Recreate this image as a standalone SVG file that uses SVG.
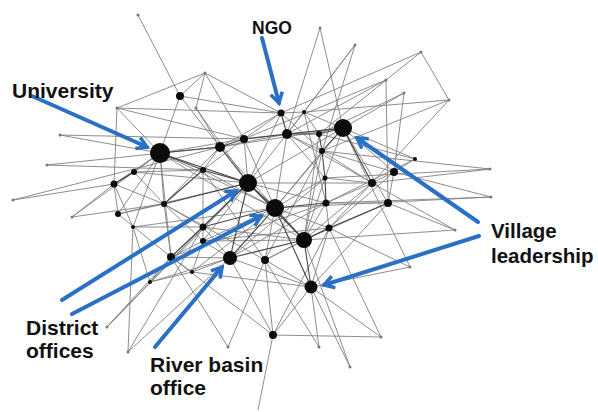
<svg xmlns="http://www.w3.org/2000/svg" width="598" height="412" viewBox="0 0 598 412">
<style>
.e{stroke:#808080;stroke-width:0.9;fill:none}
.d{stroke:#444;stroke-width:1.1;fill:none}
.nd{fill:#0b0b0b}
.tp{fill:#777}
.lbl{font-family:"Liberation Sans",Arial,sans-serif;font-weight:bold;font-size:21px;fill:#111}
.ar{stroke:#2a70c6;stroke-width:4;fill:none;stroke-linecap:round;marker-end:url(#ah)}
</style>
<defs>
<marker id="ah" viewBox="0 0 16 16" markerWidth="16" markerHeight="16" refX="13" refY="8" orient="auto" markerUnits="userSpaceOnUse">
<path d="M3,2 L13,8 L3,14" stroke="#2a70c6" stroke-width="3.5" fill="none"/>
</marker>
</defs>
<rect width="598" height="412" fill="#fff"/>
<g id="connectors">
<g class="e">
<line x1="138" y1="15" x2="180" y2="96"/>
<line x1="205" y1="73" x2="117" y2="108"/>
<line x1="205" y1="73" x2="196" y2="108"/>
<line x1="205" y1="73" x2="281" y2="113"/>
<line x1="205" y1="73" x2="244" y2="139"/>
<line x1="205" y1="73" x2="180" y2="96"/>
<line x1="117" y1="108" x2="114" y2="184"/>
<line x1="117" y1="108" x2="281" y2="113"/>
<line x1="117" y1="108" x2="160" y2="153"/>
<line x1="117" y1="108" x2="244" y2="139"/>
<line x1="196" y1="108" x2="248" y2="183"/>
<line x1="196" y1="108" x2="220" y2="147"/>
<line x1="60" y1="135" x2="160" y2="153"/>
<line x1="60" y1="135" x2="244" y2="139"/>
<line x1="47" y1="165" x2="220" y2="147"/>
<line x1="47" y1="165" x2="203" y2="170"/>
<line x1="13" y1="200" x2="114" y2="184"/>
<line x1="13" y1="200" x2="220" y2="147"/>
<line x1="72" y1="217" x2="114" y2="184"/>
<line x1="72" y1="217" x2="164" y2="204"/>
<line x1="72" y1="217" x2="160" y2="153"/>
<line x1="320" y1="28" x2="343" y2="128"/>
<line x1="320" y1="28" x2="287" y2="134"/>
<line x1="355" y1="45" x2="304" y2="112"/>
<line x1="355" y1="45" x2="287" y2="134"/>
<line x1="355" y1="45" x2="322" y2="151"/>
<line x1="421" y1="52" x2="281" y2="113"/>
<line x1="421" y1="52" x2="449" y2="100"/>
<line x1="421" y1="52" x2="319" y2="134"/>
<line x1="386" y1="80" x2="388" y2="203"/>
<line x1="386" y1="80" x2="287" y2="134"/>
<line x1="386" y1="80" x2="244" y2="139"/>
<line x1="404" y1="93" x2="394" y2="172"/>
<line x1="404" y1="93" x2="319" y2="134"/>
<line x1="404" y1="93" x2="343" y2="128"/>
<line x1="449" y1="100" x2="304" y2="112"/>
<line x1="449" y1="100" x2="322" y2="151"/>
<line x1="449" y1="100" x2="372" y2="183"/>
<line x1="490" y1="169" x2="372" y2="183"/>
<line x1="490" y1="169" x2="322" y2="151"/>
<line x1="490" y1="169" x2="325" y2="178"/>
<line x1="491" y1="197" x2="326" y2="203"/>
<line x1="491" y1="197" x2="275" y2="208"/>
<line x1="491" y1="197" x2="394" y2="172"/>
<line x1="455" y1="230" x2="388" y2="203"/>
<line x1="455" y1="230" x2="372" y2="183"/>
<line x1="455" y1="230" x2="304" y2="240"/>
<line x1="410" y1="267" x2="343" y2="128"/>
<line x1="410" y1="267" x2="311" y2="287"/>
<line x1="410" y1="267" x2="329" y2="228"/>
<line x1="381" y1="337" x2="311" y2="287"/>
<line x1="381" y1="337" x2="273" y2="335"/>
<line x1="381" y1="337" x2="329" y2="228"/>
<line x1="319" y1="347" x2="311" y2="287"/>
<line x1="319" y1="347" x2="265" y2="260"/>
<line x1="350" y1="367" x2="311" y2="287"/>
<line x1="350" y1="367" x2="304" y2="240"/>
<line x1="107" y1="327" x2="203" y2="227"/>
<line x1="107" y1="327" x2="171" y2="257"/>
<line x1="107" y1="327" x2="248" y2="183"/>
<line x1="128" y1="352" x2="230" y2="258"/>
<line x1="128" y1="352" x2="133" y2="227"/>
<line x1="128" y1="352" x2="203" y2="227"/>
<line x1="228" y1="347" x2="171" y2="257"/>
<line x1="228" y1="347" x2="265" y2="260"/>
<line x1="258" y1="410" x2="273" y2="335"/>
<line x1="273" y1="335" x2="311" y2="287"/>
<line x1="273" y1="335" x2="230" y2="258"/>
<line x1="273" y1="335" x2="265" y2="260"/>
<line x1="273" y1="335" x2="329" y2="228"/>
<line x1="273" y1="335" x2="171" y2="257"/>
<line x1="160" y1="153" x2="180" y2="96"/>
<line x1="160" y1="153" x2="134" y2="172"/>
<line x1="160" y1="153" x2="114" y2="184"/>
<line x1="160" y1="153" x2="164" y2="204"/>
<line x1="160" y1="153" x2="244" y2="139"/>
<line x1="160" y1="153" x2="275" y2="208"/>
<line x1="160" y1="153" x2="304" y2="240"/>
<line x1="160" y1="153" x2="171" y2="257"/>
<line x1="160" y1="153" x2="118" y2="214"/>
<line x1="160" y1="153" x2="133" y2="227"/>
<line x1="248" y1="183" x2="287" y2="134"/>
<line x1="248" y1="183" x2="326" y2="203"/>
<line x1="248" y1="183" x2="343" y2="128"/>
<line x1="248" y1="183" x2="372" y2="183"/>
<line x1="248" y1="183" x2="171" y2="257"/>
<line x1="248" y1="183" x2="281" y2="113"/>
<line x1="248" y1="183" x2="203" y2="241"/>
<line x1="275" y1="208" x2="329" y2="228"/>
<line x1="275" y1="208" x2="265" y2="260"/>
<line x1="275" y1="208" x2="322" y2="151"/>
<line x1="275" y1="208" x2="343" y2="128"/>
<line x1="275" y1="208" x2="325" y2="178"/>
<line x1="275" y1="208" x2="203" y2="241"/>
<line x1="275" y1="208" x2="287" y2="134"/>
<line x1="275" y1="208" x2="192" y2="272"/>
<line x1="343" y1="128" x2="394" y2="172"/>
<line x1="343" y1="128" x2="415" y2="159"/>
<line x1="343" y1="128" x2="244" y2="139"/>
<line x1="343" y1="128" x2="325" y2="178"/>
<line x1="343" y1="128" x2="304" y2="112"/>
<line x1="343" y1="128" x2="220" y2="147"/>
<line x1="343" y1="128" x2="388" y2="203"/>
<line x1="304" y1="240" x2="265" y2="260"/>
<line x1="304" y1="240" x2="388" y2="203"/>
<line x1="304" y1="240" x2="326" y2="203"/>
<line x1="304" y1="240" x2="372" y2="183"/>
<line x1="304" y1="240" x2="203" y2="241"/>
<line x1="304" y1="240" x2="322" y2="151"/>
<line x1="304" y1="240" x2="325" y2="178"/>
<line x1="230" y1="258" x2="203" y2="241"/>
<line x1="230" y1="258" x2="171" y2="257"/>
<line x1="230" y1="258" x2="192" y2="272"/>
<line x1="230" y1="258" x2="311" y2="287"/>
<line x1="230" y1="258" x2="203" y2="227"/>
<line x1="230" y1="258" x2="150" y2="282"/>
<line x1="230" y1="258" x2="326" y2="203"/>
<line x1="311" y1="287" x2="265" y2="260"/>
<line x1="311" y1="287" x2="329" y2="228"/>
<line x1="311" y1="287" x2="388" y2="203"/>
<line x1="311" y1="287" x2="192" y2="272"/>
<line x1="220" y1="147" x2="203" y2="170"/>
<line x1="220" y1="147" x2="281" y2="113"/>
<line x1="220" y1="147" x2="164" y2="204"/>
<line x1="220" y1="147" x2="287" y2="134"/>
<line x1="244" y1="139" x2="281" y2="113"/>
<line x1="244" y1="139" x2="203" y2="170"/>
<line x1="287" y1="134" x2="304" y2="112"/>
<line x1="287" y1="134" x2="322" y2="151"/>
<line x1="287" y1="134" x2="325" y2="178"/>
<line x1="281" y1="113" x2="304" y2="112"/>
<line x1="304" y1="112" x2="319" y2="134"/>
<line x1="319" y1="134" x2="415" y2="159"/>
<line x1="322" y1="151" x2="372" y2="183"/>
<line x1="322" y1="151" x2="394" y2="172"/>
<line x1="394" y1="172" x2="372" y2="183"/>
<line x1="394" y1="172" x2="415" y2="159"/>
<line x1="394" y1="172" x2="388" y2="203"/>
<line x1="372" y1="183" x2="325" y2="178"/>
<line x1="372" y1="183" x2="329" y2="228"/>
<line x1="372" y1="183" x2="326" y2="203"/>
<line x1="326" y1="203" x2="329" y2="228"/>
<line x1="326" y1="203" x2="388" y2="203"/>
<line x1="329" y1="228" x2="265" y2="260"/>
<line x1="203" y1="170" x2="203" y2="227"/>
<line x1="203" y1="170" x2="134" y2="172"/>
<line x1="134" y1="172" x2="114" y2="184"/>
<line x1="134" y1="172" x2="164" y2="204"/>
<line x1="114" y1="184" x2="118" y2="214"/>
<line x1="114" y1="184" x2="164" y2="204"/>
<line x1="114" y1="184" x2="133" y2="227"/>
<line x1="118" y1="214" x2="164" y2="204"/>
<line x1="118" y1="214" x2="171" y2="257"/>
<line x1="164" y1="204" x2="203" y2="227"/>
<line x1="164" y1="204" x2="171" y2="257"/>
<line x1="164" y1="204" x2="203" y2="241"/>
<line x1="203" y1="227" x2="203" y2="241"/>
<line x1="203" y1="241" x2="171" y2="257"/>
<line x1="171" y1="257" x2="150" y2="282"/>
<line x1="171" y1="257" x2="192" y2="272"/>
<line x1="150" y1="282" x2="133" y2="227"/>
<line x1="150" y1="282" x2="192" y2="272"/>
<line x1="192" y1="272" x2="203" y2="241"/>
<line x1="133" y1="227" x2="203" y2="227"/>
<line x1="220" y1="147" x2="275" y2="208"/>
<line x1="244" y1="139" x2="275" y2="208"/>
<line x1="244" y1="139" x2="248" y2="183"/>
<line x1="203" y1="170" x2="275" y2="208"/>
<line x1="203" y1="170" x2="265" y2="260"/>
<line x1="164" y1="204" x2="265" y2="260"/>
<line x1="203" y1="227" x2="304" y2="240"/>
<line x1="203" y1="241" x2="329" y2="228"/>
<line x1="171" y1="257" x2="326" y2="203"/>
<line x1="134" y1="172" x2="248" y2="183"/>
<line x1="118" y1="214" x2="248" y2="183"/>
<line x1="133" y1="227" x2="275" y2="208"/>
<line x1="281" y1="113" x2="322" y2="151"/>
<line x1="287" y1="134" x2="372" y2="183"/>
<line x1="319" y1="134" x2="304" y2="240"/>
<line x1="304" y1="112" x2="326" y2="203"/>
<line x1="322" y1="151" x2="265" y2="260"/>
<line x1="325" y1="178" x2="230" y2="258"/>
<line x1="180" y1="96" x2="220" y2="147"/>
<line x1="180" y1="96" x2="281" y2="113"/>
<line x1="394" y1="172" x2="329" y2="228"/>
<line x1="415" y1="159" x2="326" y2="203"/>
</g>
<g class="d">
<line x1="160" y1="153" x2="220" y2="147"/>
<line x1="160" y1="153" x2="248" y2="183"/>
<line x1="160" y1="153" x2="203" y2="170"/>
<line x1="220" y1="147" x2="248" y2="183"/>
<line x1="220" y1="147" x2="244" y2="139"/>
<line x1="244" y1="139" x2="287" y2="134"/>
<line x1="248" y1="183" x2="275" y2="208"/>
<line x1="248" y1="183" x2="304" y2="240"/>
<line x1="248" y1="183" x2="203" y2="170"/>
<line x1="248" y1="183" x2="164" y2="204"/>
<line x1="248" y1="183" x2="203" y2="227"/>
<line x1="248" y1="183" x2="230" y2="258"/>
<line x1="275" y1="208" x2="326" y2="203"/>
<line x1="275" y1="208" x2="304" y2="240"/>
<line x1="275" y1="208" x2="230" y2="258"/>
<line x1="275" y1="208" x2="311" y2="287"/>
<line x1="275" y1="208" x2="203" y2="227"/>
<line x1="343" y1="128" x2="287" y2="134"/>
<line x1="343" y1="128" x2="319" y2="134"/>
<line x1="343" y1="128" x2="322" y2="151"/>
<line x1="343" y1="128" x2="372" y2="183"/>
<line x1="304" y1="240" x2="329" y2="228"/>
<line x1="304" y1="240" x2="311" y2="287"/>
<line x1="304" y1="240" x2="230" y2="258"/>
<line x1="281" y1="113" x2="287" y2="134"/>
<line x1="287" y1="134" x2="319" y2="134"/>
<line x1="319" y1="134" x2="322" y2="151"/>
<line x1="322" y1="151" x2="325" y2="178"/>
<line x1="325" y1="178" x2="326" y2="203"/>
<line x1="388" y1="203" x2="329" y2="228"/>
<line x1="203" y1="170" x2="164" y2="204"/>
<line x1="114" y1="184" x2="134" y2="172"/>
<line x1="203" y1="227" x2="171" y2="257"/>
</g>
</g>
<g id="network-nodes">
<g id="node-university"><circle class="nd" cx="160" cy="153" r="10"/></g>
<g id="node-district-1"><circle class="nd" cx="248" cy="183" r="9"/></g>
<g id="node-district-2"><circle class="nd" cx="275" cy="208" r="9"/></g>
<g id="node-village-1"><circle class="nd" cx="343" cy="128" r="9"/></g>
<g id="node-big-e"><circle class="nd" cx="304" cy="240" r="8"/></g>
<g id="node-river-basin"><circle class="nd" cx="230" cy="258" r="7"/></g>
<g id="node-village-2"><circle class="nd" cx="311" cy="287" r="6.5"/></g>
<g id="node-ngo"><circle class="nd" cx="281" cy="113" r="3.5"/></g>
<g id="n1"><circle class="nd" cx="180" cy="96" r="4"/></g>
<g id="n2"><circle class="nd" cx="220" cy="147" r="5"/></g>
<g id="n3"><circle class="nd" cx="244" cy="139" r="4"/></g>
<g id="n4"><circle class="nd" cx="287" cy="134" r="5"/></g>
<g id="n6"><circle class="nd" cx="304" cy="112" r="2"/></g>
<g id="n7"><circle class="nd" cx="319" cy="134" r="3"/></g>
<g id="n8"><circle class="nd" cx="322" cy="151" r="3"/></g>
<g id="n9"><circle class="nd" cx="394" cy="172" r="4"/></g>
<g id="n10"><circle class="nd" cx="372" cy="183" r="4"/></g>
<g id="n11"><circle class="nd" cx="415" cy="159" r="2"/></g>
<g id="n12"><circle class="nd" cx="325" cy="178" r="2.5"/></g>
<g id="n13"><circle class="nd" cx="326" cy="203" r="3.5"/></g>
<g id="n14"><circle class="nd" cx="329" cy="228" r="3.5"/></g>
<g id="n15"><circle class="nd" cx="388" cy="203" r="4"/></g>
<g id="n16"><circle class="nd" cx="265" cy="260" r="4"/></g>
<g id="n17"><circle class="nd" cx="203" cy="170" r="3"/></g>
<g id="n18"><circle class="nd" cx="134" cy="172" r="3"/></g>
<g id="n19"><circle class="nd" cx="114" cy="184" r="3.5"/></g>
<g id="n20"><circle class="nd" cx="118" cy="214" r="3"/></g>
<g id="n21"><circle class="nd" cx="164" cy="204" r="3"/></g>
<g id="n22"><circle class="nd" cx="203" cy="227" r="3.5"/></g>
<g id="n23"><circle class="nd" cx="203" cy="241" r="3"/></g>
<g id="n24"><circle class="nd" cx="171" cy="257" r="4"/></g>
<g id="n25"><circle class="nd" cx="273" cy="335" r="4"/></g>
<g id="n26"><circle class="nd" cx="150" cy="282" r="2"/></g>
<g id="n27"><circle class="nd" cx="192" cy="272" r="2"/></g>
<g id="n28"><circle class="nd" cx="133" cy="227" r="2"/></g>
<g id="tips" class="tp">
<circle cx="138" cy="15" r="1.5"/><circle cx="205" cy="73" r="1.5"/><circle cx="117" cy="108" r="1.5"/>
<circle cx="196" cy="108" r="1.5"/><circle cx="60" cy="135" r="1.5"/><circle cx="47" cy="165" r="1.5"/>
<circle cx="13" cy="200" r="1.5"/><circle cx="72" cy="217" r="1.5"/><circle cx="320" cy="28" r="1.5"/>
<circle cx="355" cy="45" r="1.5"/><circle cx="421" cy="52" r="1.5"/><circle cx="386" cy="80" r="1.5"/>
<circle cx="404" cy="93" r="1.5"/><circle cx="449" cy="100" r="1.5"/><circle cx="490" cy="169" r="1.5"/>
<circle cx="491" cy="197" r="1.5"/><circle cx="455" cy="230" r="1.5"/><circle cx="410" cy="267" r="1.5"/>
<circle cx="381" cy="337" r="1.5"/><circle cx="319" cy="347" r="1.5"/><circle cx="350" cy="367" r="1.5"/>
<circle cx="107" cy="327" r="1.5"/><circle cx="128" cy="352" r="1.5"/><circle cx="228" cy="347" r="1.5"/>
</g>
</g>
<g id="arrows">
<line class="ar" x1="262" y1="38" x2="279" y2="103"/>
<line class="ar" x1="32" y1="96" x2="147" y2="147"/>
<line class="ar" x1="62" y1="300" x2="236" y2="191"/>
<line class="ar" x1="72" y1="314" x2="261" y2="216"/>
<line class="ar" x1="155" y1="347" x2="222" y2="267"/>
<line class="ar" x1="478" y1="222" x2="357" y2="138"/>
<line class="ar" x1="479" y1="236" x2="324" y2="285"/>
</g>
<g id="label-ngo"><text class="lbl" x="252" y="34" style="font-size:17.5px">NGO</text></g>
<g id="label-university"><text class="lbl" x="12" y="98">University</text></g>
<g id="label-district"><text class="lbl" x="26" y="335">District</text><text class="lbl" x="26" y="358">offices</text></g>
<g id="label-river"><text class="lbl" x="150" y="372">River basin</text><text class="lbl" x="150" y="395">office</text></g>
<g id="label-village"><text class="lbl" x="491" y="238" style="font-size:20.5px">Village</text><text class="lbl" x="491" y="263" style="font-size:20.5px">leadership</text></g>
</svg>
